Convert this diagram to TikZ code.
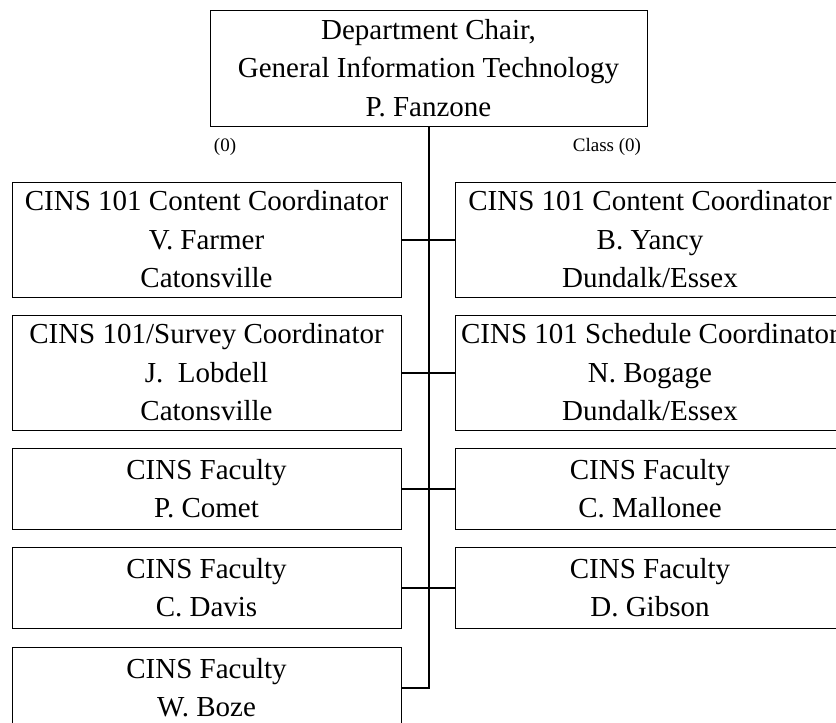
\documentclass[tikz,border=0pt]{standalone}
\usepackage{fontspec}
\setmainfont{Liberation Serif}
\usepackage{tikz}
\usetikzlibrary{positioning,calc}
\tikzset{
  line cap=butt,
  line join=miter,
  box/.style={draw, line width=1pt, inner sep=0pt, align=center,
    minimum width=389pt, font=\fontsize{29}{38.5}\selectfont},
  tallbox/.style={box, minimum height=115pt},
  shortbox/.style={box, minimum height=81pt},
  chairbox/.style={box, minimum width=437pt, minimum height=116pt},
  link/.style={line width=2pt},
  smalllabel/.style={inner sep=0pt, font=\fontsize{19}{23}\selectfont}
}
\begin{document}
\begin{tikzpicture}[x=1pt, y=-1pt]
  \useasboundingbox (0,0) rectangle (836,723);
  \clip (0,0) rectangle (836,723);

  % head of department
  \node[chairbox] (chair) at (428.5,68)
    {Department Chair,\\General Information Technology\\P. Fanzone};
  \node[smalllabel] (lblleft)  at (225,147) {(0)};
  \node[smalllabel] (lblright) at (607,147) {Class (0)};

  % left column
  \node[tallbox]  (L1) at (206.5,239.5) {CINS 101 Content Coordinator\\V. Farmer\\Catonsville};
  \node[tallbox]  (L2) at (206.5,372.5) {CINS 101/Survey Coordinator\\J.\ \ Lobdell\\Catonsville};
  \node[shortbox] (L3) at (206.5,488.5) {CINS Faculty\\P. Comet};
  \node[shortbox] (L4) at (206.5,587.5) {CINS Faculty\\C. Davis};
  \node[shortbox] (L5) at (206.5,687.5) {CINS Faculty\\W. Boze};

  % right column
  \node[tallbox]  (R1) at (650,239.5) {CINS 101 Content Coordinator\\B. Yancy\\Dundalk/Essex};
  \node[tallbox]  (R2) at (650,372.5) {CINS 101 Schedule Coordinator\\N. Bogage\\Dundalk/Essex};
  \node[shortbox] (R3) at (650,488.5) {CINS Faculty\\C. Mallonee};
  \node[shortbox] (R4) at (650,587.5) {CINS Faculty\\D. Gibson};

  % connectors
  \draw[link] (chair.south) -- (chair.south |- L5.east) -- (L5.east);
  \foreach \k in {1,...,4}
    \draw[link] (L\k.east) -- (R\k.west);
\end{tikzpicture}
\end{document}
